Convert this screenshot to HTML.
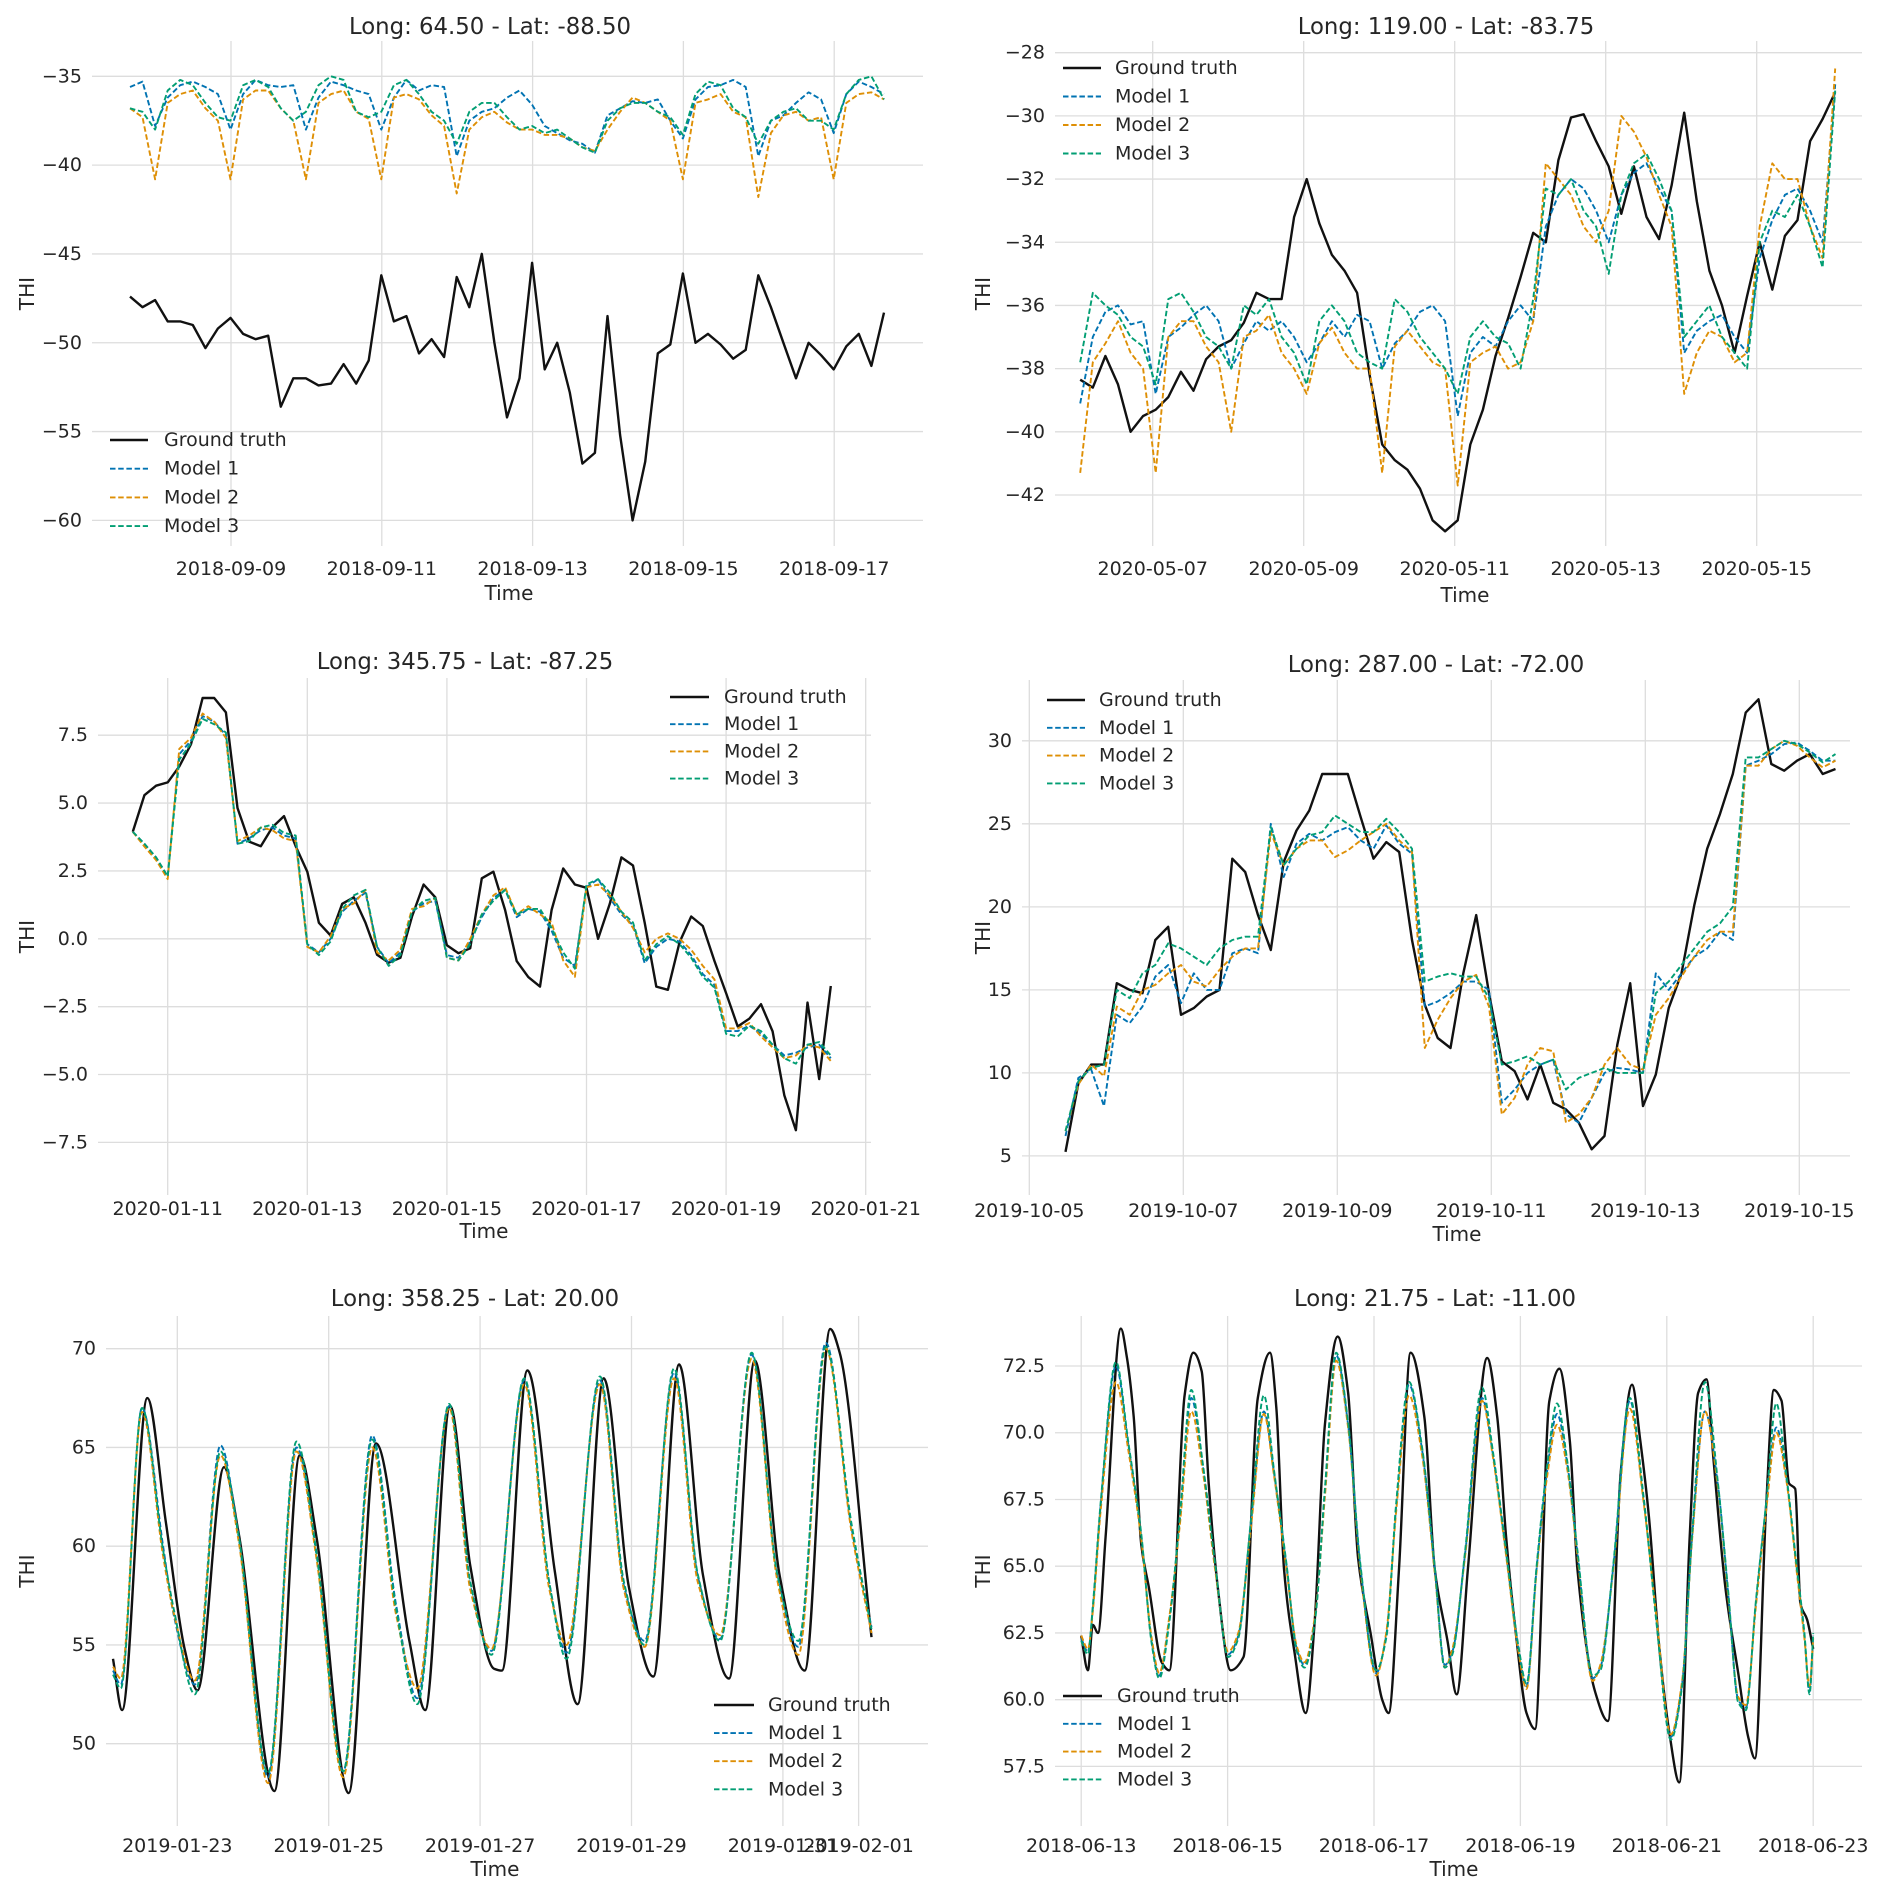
<!DOCTYPE html>
<html><head><meta charset="utf-8">
<style>
html,body{margin:0;padding:0;background:#fff;}
svg{display:block;font-family:"DejaVu Sans","Liberation Sans",sans-serif;}
</style></head>
<body>
<svg id="fig" width="1892" height="1887" viewBox="0 0 1892 1887" xmlns="http://www.w3.org/2000/svg"></svg>
<script>
// ---------- Panel 1 data (4-hour steps) ----------
const p1Truth=[-47.4,-48.0,-47.6,-48.8,-48.8,-49.0,-50.3,-49.2,-48.6,-49.5,-49.8,-49.6,-53.6,-52.0,-52.0,-52.4,-52.3,-51.2,-52.3,-51.0,-46.2,-48.8,-48.5,-50.6,-49.8,-50.8,-46.3,-48.0,-45.0,-50.0,-54.2,-52.0,-45.5,-51.5,-50.0,-52.8,-56.8,-56.2,-48.5,-55.2,-60.0,-56.7,-50.6,-50.1,-46.1,-50.0,-49.5,-50.1,-50.9,-50.4,-46.2,-48.0,-50.0,-52.0,-50.0,-50.7,-51.5,-50.2,-49.5,-51.3,-48.3];
const p1Model1=[-35.6,-35.3,-37.8,-36.2,-35.5,-35.3,-35.6,-36.0,-38.0,-36.0,-35.2,-35.5,-35.6,-35.5,-38.0,-36.2,-35.3,-35.5,-35.8,-36.0,-38.0,-36.2,-35.2,-35.8,-35.5,-35.6,-39.5,-37.5,-37.0,-36.8,-36.2,-35.8,-36.6,-37.8,-38.2,-38.6,-38.8,-39.3,-37.2,-36.8,-36.4,-36.5,-36.3,-37.5,-38.5,-36.3,-35.6,-35.5,-35.2,-35.6,-39.5,-37.5,-37.2,-36.5,-35.9,-36.3,-38.2,-36.0,-35.3,-35.6,-36.0];
const p1Model2=[-36.8,-37.3,-40.8,-36.5,-36.0,-35.8,-36.8,-37.5,-40.8,-36.3,-35.8,-35.8,-36.8,-37.5,-40.8,-36.5,-36.0,-35.8,-37.0,-37.4,-40.8,-36.2,-36.0,-36.3,-37.2,-37.8,-41.6,-38.0,-37.3,-37.0,-37.6,-38.0,-38.0,-38.3,-38.3,-38.5,-39.0,-39.2,-38.0,-37.0,-36.2,-36.5,-37.0,-37.5,-40.8,-36.5,-36.3,-36.0,-37.0,-37.3,-41.8,-38.2,-37.2,-37.0,-37.5,-37.3,-40.8,-36.5,-36.0,-35.9,-36.3];
const p1Model3=[-36.8,-37.0,-38.0,-35.8,-35.2,-35.5,-36.5,-37.3,-37.5,-35.5,-35.2,-35.6,-36.8,-37.5,-37.0,-35.5,-35.0,-35.2,-37.0,-37.3,-37.0,-35.5,-35.2,-36.0,-37.0,-37.5,-38.8,-37.0,-36.5,-36.5,-37.3,-38.0,-37.8,-38.2,-38.0,-38.5,-39.0,-39.3,-37.5,-36.8,-36.5,-36.5,-37.0,-37.3,-38.3,-36.0,-35.3,-35.5,-36.8,-37.3,-38.8,-37.5,-37.0,-36.8,-37.5,-37.5,-38.0,-36.0,-35.2,-35.0,-36.3];
const p1XTickLabels=["2018-09-09","2018-09-11","2018-09-13","2018-09-15","2018-09-17"];
const p1XTickDays=[0,2,4,6,8];
const p1YTicks=[-35,-40,-45,-50,-55,-60];

// ---------- Panel 2 data ----------
const p2Truth=[-38.35,-38.6,-37.6,-38.5,-40.0,-39.5,-39.3,-38.9,-38.1,-38.7,-37.7,-37.3,-37.1,-36.55,-35.6,-35.8,-35.8,-33.2,-32.0,-33.4,-34.4,-34.9,-35.6,-38.2,-40.4,-40.9,-41.2,-41.8,-42.8,-43.15,-42.8,-40.4,-39.3,-37.6,-36.4,-35.1,-33.7,-34.0,-31.4,-30.05,-29.95,-30.8,-31.6,-33.1,-31.6,-33.2,-33.9,-32.2,-29.9,-32.7,-34.9,-36.0,-37.5,-35.7,-34.0,-35.5,-33.8,-33.3,-30.8,-30.1,-29.25];
const p2Model1=[-39.1,-37.0,-36.2,-36.0,-36.6,-36.5,-38.8,-37.0,-36.7,-36.3,-36.0,-36.5,-38.0,-37.2,-36.5,-36.8,-36.5,-37.0,-37.8,-37.2,-36.5,-37.0,-36.3,-36.5,-38.0,-37.2,-36.8,-36.2,-36.0,-36.5,-39.5,-37.5,-37.0,-37.3,-36.5,-36.0,-36.5,-33.5,-32.5,-32.0,-32.3,-33.0,-34.0,-32.5,-31.8,-31.5,-32.3,-33.0,-37.5,-36.8,-36.5,-36.3,-37.0,-37.5,-34.5,-33.3,-32.5,-32.3,-33.0,-34.0,-29.0];
const p2Model2=[-41.3,-37.8,-37.2,-36.5,-37.5,-38.0,-41.3,-37.0,-36.5,-36.5,-37.3,-37.8,-40.0,-37.0,-36.8,-36.3,-37.5,-38.0,-38.8,-37.2,-36.7,-37.5,-38.0,-38.0,-41.3,-37.3,-36.8,-37.3,-37.8,-38.0,-41.7,-37.8,-37.5,-37.3,-38.0,-37.8,-36.5,-31.5,-32.0,-32.5,-33.5,-34.0,-33.0,-30.0,-30.5,-31.3,-32.5,-33.5,-38.8,-37.5,-36.8,-37.0,-37.8,-37.5,-33.5,-31.5,-32.0,-32.0,-33.5,-34.5,-28.5];
const p2Model3=[-37.8,-35.6,-36.0,-36.3,-37.0,-37.3,-38.5,-35.8,-35.6,-36.2,-37.0,-37.3,-38.0,-36.0,-36.3,-35.8,-37.0,-37.5,-38.5,-36.5,-36.0,-36.5,-37.5,-37.8,-38.0,-35.8,-36.2,-37.0,-37.5,-38.0,-38.8,-37.0,-36.5,-37.0,-37.2,-38.0,-35.8,-32.3,-32.5,-32.0,-33.0,-33.5,-35.0,-32.5,-31.5,-31.2,-32.0,-33.0,-37.0,-36.5,-36.0,-37.0,-37.5,-38.0,-34.0,-33.0,-33.2,-32.5,-33.5,-34.8,-29.2];
const p2XTickLabels=["2020-05-07","2020-05-09","2020-05-11","2020-05-13","2020-05-15"];
const p2XTickDays=[0,2,4,6,8];
const p2YTicks=[-28,-30,-32,-34,-36,-38,-40,-42];

// ---------- Panel 3 data ----------
const p3Truth=[3.94,5.29,5.64,5.76,6.35,7.17,8.87,8.87,8.34,4.82,3.58,3.41,4.11,4.52,3.41,2.47,0.59,0.12,1.29,1.53,0.59,-0.59,-0.88,-0.7,0.82,2.0,1.53,-0.24,-0.53,-0.35,2.23,2.47,1.06,-0.82,-1.41,-1.76,1.06,2.59,2.0,1.88,0.0,1.29,3.0,2.7,0.59,-1.76,-1.88,-0.12,0.82,0.47,-0.82,-2.0,-3.23,-2.94,-2.41,-3.41,-5.76,-7.05,-2.35,-5.17,-1.74];
const p3Model1=[3.94,3.5,3.0,2.3,6.8,7.3,8.2,8.0,7.5,3.5,3.7,4.0,4.1,3.8,3.7,-0.2,-0.5,0.0,1.0,1.4,1.7,-0.3,-0.9,-0.5,1.0,1.3,1.4,-0.6,-0.7,-0.1,0.8,1.5,1.8,0.8,1.1,1.0,0.3,-0.7,-1.0,1.9,2.2,1.5,0.9,0.5,-0.9,-0.3,0.0,-0.1,-0.6,-1.3,-1.7,-3.4,-3.4,-3.2,-3.5,-3.9,-4.3,-4.2,-4.0,-3.9,-4.4];
const p3Model2=[3.94,3.4,2.9,2.2,7.0,7.4,8.3,8.0,7.4,3.6,3.8,4.1,4.0,3.7,3.6,-0.3,-0.5,0.1,1.1,1.3,1.8,-0.5,-0.8,-0.4,1.1,1.2,1.5,-0.7,-0.8,0.0,0.9,1.6,1.9,0.9,1.2,0.9,0.6,-0.8,-1.4,1.9,2.0,1.6,1.0,0.4,-0.5,0.0,0.2,0.0,-0.4,-1.0,-1.5,-3.3,-3.3,-3.1,-3.6,-4.0,-4.4,-4.3,-3.9,-4.0,-4.5];
const p3Model3=[3.94,3.5,3.0,2.3,6.6,7.2,8.1,7.9,7.6,3.5,3.6,4.1,4.2,3.9,3.8,-0.2,-0.6,-0.1,1.1,1.6,1.8,-0.3,-1.0,-0.6,1.0,1.4,1.5,-0.7,-0.8,-0.2,0.9,1.4,1.8,0.9,1.1,1.1,0.4,-0.5,-1.1,2.0,2.2,1.7,1.0,0.6,-0.8,-0.2,0.1,-0.2,-0.7,-1.4,-1.8,-3.5,-3.6,-3.2,-3.4,-3.9,-4.4,-4.6,-3.9,-3.8,-4.3];
const p3XTickLabels=["2020-01-11","2020-01-13","2020-01-15","2020-01-17","2020-01-19","2020-01-21"];
const p3XTickDays=[0,2,4,6,8,10];
const p3YTicks=[7.5,5.0,2.5,0.0,-2.5,-5.0,-7.5];

// ---------- Panel 4 data ----------
const p4Truth=[5.24,9.35,10.5,10.5,15.4,15.0,14.8,18.0,18.8,13.5,13.9,14.6,15.0,22.9,22.1,19.5,17.4,22.7,24.6,25.8,28.0,28.0,28.0,25.4,22.9,23.9,23.3,18.0,14.1,12.1,11.5,16.0,19.5,14.8,10.7,10.1,8.4,10.5,8.2,7.8,7.0,5.4,6.2,11.7,15.4,8.0,9.9,13.9,16.0,20.1,23.5,25.6,28.0,31.7,32.5,28.6,28.2,28.8,29.2,28.0,28.3];
const p4Model1=[6.2,9.7,10.2,8.0,13.5,13.0,14.0,15.8,16.5,14.2,16.0,15.0,15.0,17.2,17.5,17.2,25.0,21.8,23.8,24.4,24.0,24.5,24.8,24.0,23.5,24.9,23.8,23.2,14.0,14.3,14.8,15.5,15.5,15.0,8.2,9.0,10.0,10.5,10.8,7.5,7.0,8.5,10.0,10.3,10.2,10.0,16.0,15.0,16.0,17.0,17.5,18.5,18.0,28.5,28.8,29.2,29.8,29.9,29.4,28.8,28.8];
const p4Model2=[6.5,9.3,10.5,9.8,14.0,13.5,15.0,15.3,16.0,16.5,15.5,15.2,16.2,17.0,17.5,17.5,24.5,22.5,23.5,24.0,24.0,23.0,23.4,24.0,24.5,25.0,24.0,23.3,11.5,13.2,14.5,15.5,15.9,14.0,7.5,8.5,10.5,11.5,11.3,7.0,7.5,8.5,10.5,11.5,10.5,10.2,13.5,14.5,15.8,17.0,18.0,18.5,18.5,28.5,28.5,29.5,30.0,29.7,29.0,28.4,28.8];
const p4Model3=[6.5,9.5,10.3,10.5,15.0,14.5,16.0,16.5,17.8,17.5,17.0,16.5,17.5,18.0,18.2,18.2,24.8,22.5,23.5,24.3,24.5,25.5,25.0,24.5,24.5,25.3,24.5,23.5,15.5,15.8,16.0,15.8,15.8,14.5,10.5,10.7,11.0,10.5,10.8,9.0,9.7,10.0,10.3,10.0,10.0,10.0,14.8,15.5,16.5,17.5,18.5,19.0,20.0,29.0,29.0,29.5,30.0,29.8,29.3,28.7,29.2];
const p4XTickLabels=["2019-10-05","2019-10-07","2019-10-09","2019-10-11","2019-10-13","2019-10-15"];
const p4XTickDays=[-2,0,2,4,6,8];
const p4YTicks=[30,25,20,15,10,5];

// ---------- Panel 5 data (hours since first sample) ----------
const p5TruthHours=[0,2.9,10.9,16.8,22.7,26.8,35.2,39.8,51.2,59.2,64.6,74.7,83.4,94.0,99.0,106.9,113.3,120.8,123.3,131.4,140.1,147.3,155.6,163.6,171.3,179.5,187.1,195.3,203.5,211.4,219.3,227.4,230.4,240.5];
const p5Truth=[54.3,51.7,67.5,61.2,54.8,52.7,64.0,60.7,47.6,64.6,60.4,47.5,65.2,55.2,51.7,67.1,59.0,53.8,53.7,68.9,58.7,52.0,68.5,57.9,53.4,69.2,58.5,53.3,69.4,58.5,53.7,71.0,69.8,55.4];
const p5ModelHours=[0,2.5,9.2,15.9,19.3,26.0,34.1,39.8,49.2,58.2,64.6,73.0,82.2,89.8,96.5,106.6,113.3,120.0,130.4,138.5,143.8,154.4,162.0,168.6,177.9,185.4,192.5,202.5,210.6,217.3,226.0,234.1,240.5];
const p5Model1=[53.7,53.0,67.0,60.0,56.5,53.0,65.1,60.5,48.3,65.0,59.5,48.6,65.6,57.0,52.3,67.1,58.0,54.7,68.4,58.0,54.6,68.4,58.0,55.2,68.8,58.5,55.3,69.7,58.5,54.9,70.3,61.0,55.9];
const p5Model2=[53.9,53.3,66.8,59.5,56.6,53.2,64.6,60.3,48.0,64.8,59.3,48.3,65.0,56.5,52.8,67.0,57.8,54.8,68.2,57.7,55.0,68.2,57.8,54.9,68.5,58.2,55.5,69.5,58.3,54.5,70.0,60.8,55.6];
const p5Model3=[53.5,52.8,67.0,59.8,56.8,52.5,64.8,60.6,48.5,65.3,59.6,48.6,65.4,56.8,52.0,67.2,58.2,54.5,68.5,58.0,54.3,68.6,58.2,55.0,69.0,58.6,55.2,69.8,58.6,55.2,70.1,61.2,55.8];
const p5XTickLabels=["2019-01-23","2019-01-25","2019-01-27","2019-01-29","2019-01-31","2019-02-01"];
const p5XTickDays=[0,2,4,6,8,9];
const p5YTicks=[70,65,60,55,50];

// ---------- Panel 6 data ----------
const p6TruthHours=[0,2.2,3.8,5.5,8.0,13.0,15.0,17.2,19.7,22.2,26.4,28.9,33.9,36.8,39.5,41.8,44.8,49.0,53.2,57.9,61.9,64.0,66.5,69.9,73.6,76.6,79.9,84.1,87.5,90.8,95.0,98.7,100.8,104.2,108.0,112.5,115.9,120.1,123.1,126.8,133.1,136.4,139.3,142.6,146.0,148.8,153.5,156.8,160.2,162.7,168.5,172.7,176.9,180.6,183.3,186.1,189.5,192.8,196.1,199.5,202.3,205.0,207.3,211.2,215.4,218.7,220.9,224.6,227.1,229.6,232.1,234.1,235.8,238.0,240.0];
const p6Truth=[62.4,61.1,62.8,62.5,66.1,73.9,72.8,70.6,65.8,64.2,61.4,61.1,71.4,73.0,72.3,68.1,64.2,61.1,61.6,71.3,73.0,70.9,64.9,61.8,59.5,63.0,70.3,73.6,71.5,65.3,62.4,60.0,59.5,64.9,73.0,70.6,64.9,62.2,60.2,64.9,72.8,70.6,66.1,62.4,59.5,58.9,71.2,72.4,69.7,64.9,60.3,59.2,68.5,71.8,69.7,66.9,62.0,58.8,56.9,66.1,71.5,72.0,69.0,64.2,61.0,58.6,57.8,67.3,71.6,71.2,68.1,67.9,63.6,63.0,61.9];
const p6ModelHours=[0,2.2,3.8,6.4,11.4,15.5,19.7,23.1,25.6,28.9,32.3,36.1,39.8,44.0,48.2,51.5,55.7,59.9,63.2,67.4,70.7,73.2,76.6,79.9,83.6,87.5,91.6,96.7,100.0,103.3,107.5,111.7,115.9,119.2,121.7,125.9,131.4,135.1,139.3,143.5,146.0,149.3,152.7,156.0,159.4,162.7,167.7,170.2,174.4,179.9,184.4,188.6,193.3,197.0,200.3,204.5,208.7,212.1,215.4,217.9,221.2,224.6,227.9,231.2,234.6,237.1,238.8,240.0];
const p6Model1=[62.3,61.8,63.4,67.3,72.5,69.5,66.1,62.2,60.9,63.0,66.7,71.3,68.8,64.9,61.7,62.4,66.7,70.8,68.5,64.9,61.9,61.3,63.0,67.8,72.9,70.3,64.9,61.0,62.4,67.3,71.8,69.4,64.9,61.3,61.8,65.5,71.3,69.1,65.5,61.8,60.5,64.9,68.5,70.7,68.8,65.5,60.8,61.2,64.9,71.2,67.5,63.0,58.6,60.6,66.1,70.8,68.1,64.0,60.0,59.7,63.6,67.3,70.2,68.3,64.9,62.4,60.3,62.4];
const p6Model2=[62.4,61.9,63.3,67.1,71.9,69.3,66.0,62.3,61.0,63.1,66.5,70.8,68.6,64.8,61.8,62.5,66.5,70.7,68.4,64.8,62.0,61.4,63.1,67.6,72.7,70.2,64.8,60.9,62.5,67.1,71.4,69.2,64.8,61.2,61.9,65.4,71.2,69.0,65.4,61.7,60.4,64.8,68.3,70.3,68.6,65.4,60.7,61.3,64.8,70.9,67.4,63.1,58.7,60.7,66.0,70.8,68.0,63.9,60.1,59.8,63.5,67.1,70.0,68.2,64.8,62.3,60.5,62.3];
const p6Model3=[62.2,61.7,63.5,67.4,72.65,69.6,66.2,62.1,60.8,62.9,66.8,71.6,68.9,65.0,61.6,62.3,66.8,71.4,68.6,65.0,61.8,61.2,62.9,67.9,73.0,70.4,65.0,61.1,62.3,67.4,71.9,69.5,65.0,61.2,61.7,65.6,71.7,69.2,65.6,61.9,60.6,65.0,68.7,71.1,68.9,65.6,60.9,61.1,65.0,71.3,67.6,62.9,58.5,60.5,66.2,71.9,68.2,64.1,59.9,59.6,63.7,67.4,71.1,68.4,65.0,62.5,60.2,62.5];
const p6XTickLabels=["2018-06-13","2018-06-15","2018-06-17","2018-06-19","2018-06-21","2018-06-23"];
const p6XTickDays=[0,2,4,6,8,10];
const p6YTicks=[72.5,70.0,67.5,65.0,62.5,60.0,57.5];

// ---------- rendering ----------
const NS="http://www.w3.org/2000/svg";
const svg=document.getElementById('fig');
const COLORS={truth:"#111111",m1:"#0173b2",m2:"#de8f05",m3:"#029e73"};
function mk(tag,attrs,parent){const e=document.createElementNS(NS,tag);for(const k in attrs)e.setAttribute(k,attrs[k]);(parent||svg).appendChild(e);return e;}
function fmt(v,dec){const s=Math.abs(v).toFixed(dec);return (v<0?"\u2212":"")+s;}

function linePath(pts,smooth){
  const f=n=>n.toFixed(1);
  if(!smooth||pts.length<3){return pts.map((p,i)=>(i?"L":"M")+f(p[0])+","+f(p[1])).join("");}
  const n=pts.length,dx=[],m=[],t=new Array(n);
  for(let i=0;i<n-1;i++){dx.push(pts[i+1][0]-pts[i][0]);m.push((pts[i+1][1]-pts[i][1])/dx[i]);}
  t[0]=m[0];t[n-1]=m[n-2];
  for(let i=1;i<n-1;i++){
    if(m[i-1]*m[i]<=0)t[i]=0;
    else{const w1=2*dx[i]+dx[i-1],w2=dx[i]+2*dx[i-1];t[i]=(w1+w2)/(w1/m[i-1]+w2/m[i]);}
  }
  let d="M"+f(pts[0][0])+","+f(pts[0][1]);
  for(let i=0;i<n-1;i++){
    const h=dx[i]/3;
    d+="C"+f(pts[i][0]+h)+","+f(pts[i][1]+t[i]*h)+" "+f(pts[i+1][0]-h)+","+f(pts[i+1][1]-t[i+1]*h)+" "+f(pts[i+1][0])+","+f(pts[i+1][1]);
  }
  return d;
}

const panels=[
 {id:"p1",title:"Long: 64.50 - Lat: -88.50",box:[92,923,41,546],refX:231,dayPx:75.4,v0:-35,y0:76.3,v1:-60,y1:520.4,startDay:-1.34,dec:0,
  truth:p1Truth,m1:p1Model1,m2:p1Model2,m3:p1Model3,xl:p1XTickLabels,xd:p1XTickDays,yt:p1YTicks,
  titleX:490,titleY:27,tickY:569,timeX:509,timeY:593,thiX:27,leg:[110,148,164,440,28.7]},
 {id:"p2",title:"Long: 119.00 - Lat: -83.75",box:[1055,1862,41,546],refX:1152.7,dayPx:75.5,v0:-28,y0:52.7,v1:-42,y1:495,startDay:-0.96,dec:0,
  truth:p2Truth,m1:p2Model1,m2:p2Model2,m3:p2Model3,xl:p2XTickLabels,xd:p2XTickDays,yt:p2YTicks,
  titleX:1446,titleY:27,tickY:569,timeX:1465,timeY:595,thiX:983,leg:[1063,1101,1115,68,28.5]},
 {id:"p3",title:"Long: 345.75 - Lat: -87.25",box:[98,871,678,1195],refX:167.7,dayPx:69.8,v0:7.5,y0:735.2,v1:-7.5,y1:1142.4,startDay:-0.5,dec:1,
  truth:p3Truth,m1:p3Model1,m2:p3Model2,m3:p3Model3,xl:p3XTickLabels,xd:p3XTickDays,yt:p3YTicks,
  titleX:465,titleY:662,tickY:1209,timeX:484,timeY:1231,thiX:27,leg:[670,709,724,697,27.2]},
 {id:"p4",title:"Long: 287.00 - Lat: -72.00",box:[1022,1850,680,1195],refX:1183.3,dayPx:77.0,v0:30,y0:740.8,v1:5,y1:1155.9,startDay:-1.53,dec:0,
  truth:p4Truth,m1:p4Model1,m2:p4Model2,m3:p4Model3,xl:p4XTickLabels,xd:p4XTickDays,yt:p4YTicks,
  titleX:1436,titleY:665,tickY:1211,timeX:1457,timeY:1234,thiX:983,leg:[1047,1085,1099,700,27.8]},
 {id:"p5",title:"Long: 358.25 - Lat: 20.00",box:[106,928,1316,1826],refX:177.3,dayPx:75.7,v0:70,y0:1348.7,v1:50,y1:1743.7,startDay:-0.85,dec:0,smooth:true,
  truth:p5Truth,truthH:p5TruthHours,mH:p5ModelHours,m1:p5Model1,m2:p5Model2,m3:p5Model3,xl:p5XTickLabels,xd:p5XTickDays,yt:p5YTicks,
  titleX:475,titleY:1299,tickY:1846,timeX:495,timeY:1869,thiX:27,leg:[714,754,768,1705,28.1]},
 {id:"p6",title:"Long: 21.75 - Lat: -11.00",box:[1055,1862,1316,1826],refX:1081.2,dayPx:73.2,v0:72.5,y0:1366,v1:57.5,y1:1766.4,startDay:0,dec:1,smooth:true,
  truth:p6Truth,truthH:p6TruthHours,mH:p6ModelHours,m1:p6Model1,m2:p6Model2,m3:p6Model3,xl:p6XTickLabels,xd:p6XTickDays,yt:p6YTicks,
  titleX:1435,titleY:1299,tickY:1846,timeX:1454,timeY:1869,thiX:983,leg:[1063,1102,1117,1696,27.8]}
];

panels.forEach(P=>{
  const g=mk('g',{});
  
  
  const [L,R,T,B]=P.box;
  const xDay=d=>P.refX+d*P.dayPx;
  const yV=v=>P.y0+(v-P.v0)*(P.y1-P.y0)/(P.v1-P.v0);
  P.yt.forEach(v=>{
    const ln=mk('line',{x1:L,x2:R,y1:yV(v),y2:yV(v),stroke:"#dddddd","stroke-width":1.3},g);
    
    
    const t=mk('text',{x:L-10,y:yV(v),"text-anchor":"end","dominant-baseline":"central","font-size":19,fill:"#262626"},g);
    
    
    t.textContent=fmt(v,P.dec);
  });
  P.xd.forEach((d,i)=>{
    const ln=mk('line',{x1:xDay(d),x2:xDay(d),y1:T,y2:B,stroke:"#dddddd","stroke-width":1.3},g);
    
    
    const t=mk('text',{x:xDay(d),y:P.tickY,"text-anchor":"middle","dominant-baseline":"central","font-size":19,fill:"#262626"},g);
    
    
    t.textContent=P.xl[i];
  });
  const order=[["truth",COLORS.truth,false],["m1",COLORS.m1,true],["m2",COLORS.m2,true],["m3",COLORS.m3,true]];
  order.forEach(([k,c,dash])=>{
    const vals=P[k];
    const hours=(k==="truth")?P.truthH:P.mH;
    const pts=vals.map((v,i)=>{const h=hours?hours[i]:i*4;return [xDay(P.startDay+h/24),yV(v)];}).filter(p=>!isNaN(p[0]));
    const attrs={d:linePath(pts,!!P.smooth),fill:"none",stroke:c,"stroke-width":dash?1.9:2.4,"stroke-linejoin":"round"};
    if(dash) attrs["stroke-dasharray"]="5.5,2.7";
    const p=mk('path',attrs,g);
    
    
  });
  const tt=mk('text',{x:P.titleX,y:P.titleY,"text-anchor":"middle","dominant-baseline":"central","font-size":22.8,fill:"#262626"},g);
  
  
  tt.textContent=P.title;
  const xt=mk('text',{x:P.timeX,y:P.timeY,"text-anchor":"middle","dominant-baseline":"central","font-size":20,fill:"#262626"},g);
  
  
  xt.textContent="Time";
  const yc=(T+B)/2;
  const yt=mk('text',{x:P.thiX,y:yc,"text-anchor":"middle","dominant-baseline":"central","font-size":20,fill:"#262626",transform:`rotate(-90 ${P.thiX} ${yc})`},g);
  
  
  yt.textContent="THI";
  const [lx0,lx1,tx,ly,step]=P.leg;
  const names=["Ground truth","Model 1","Model 2","Model 3"];
  const cols=[COLORS.truth,COLORS.m1,COLORS.m2,COLORS.m3];
  const lg=mk('g',{},g);
  
  
  names.forEach((n,i)=>{
    const y=ly+i*step;
    const la={x1:lx0,x2:lx1,y1:y,y2:y,stroke:cols[i],"stroke-width":i?1.9:2.4};
    if(i) la["stroke-dasharray"]="5.5,2.7";
    const l=mk('line',la,lg);
    
    
    const t=mk('text',{x:tx,y:y,"dominant-baseline":"central","font-size":19,fill:"#262626"},lg);
    
    
    t.textContent=n;
  });
});
</script>
</body></html>
